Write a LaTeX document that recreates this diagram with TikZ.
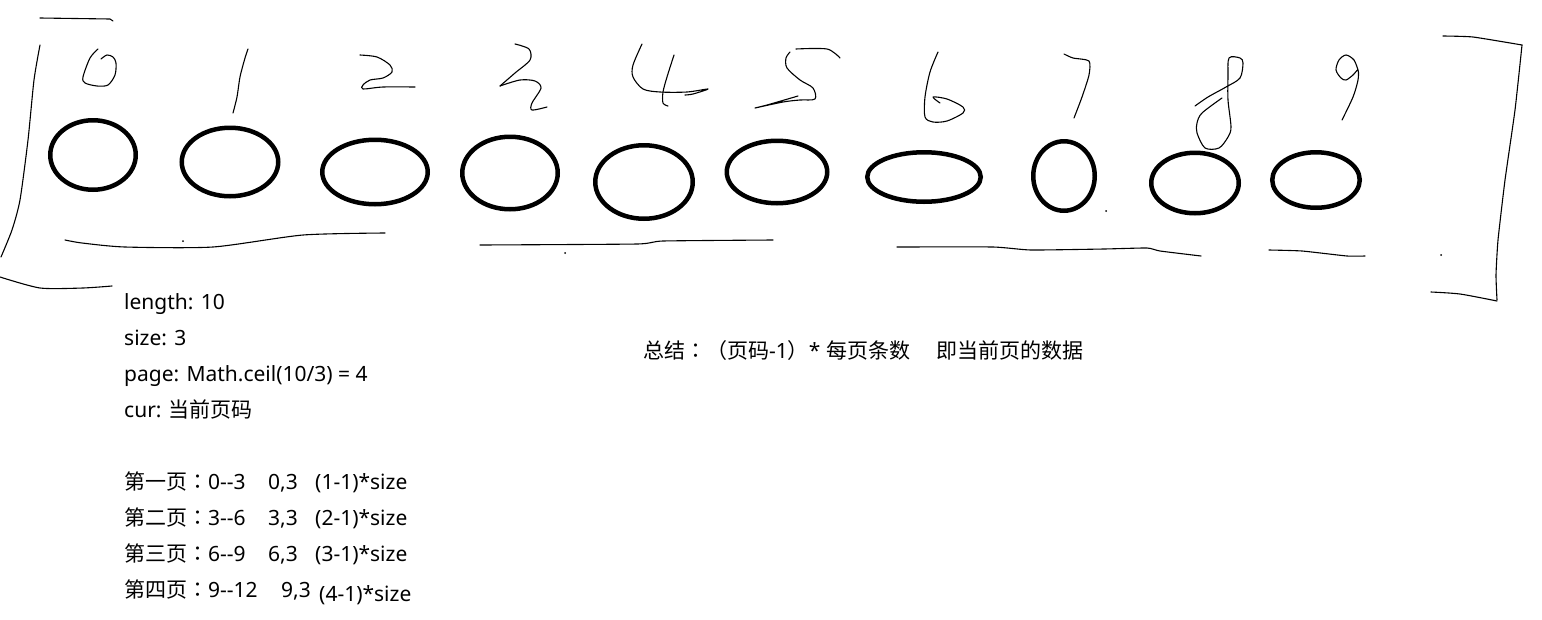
\documentclass[tikz,border=0pt]{standalone}
\usepackage{fontspec}
\setmainfont{Noto Sans}
\newfontfamily\cjk{Noto Sans CJK SC}
\newfontfamily\cjkc{Noto Sans CJK TC}
\usetikzlibrary{shapes.geometric}
\begin{document}
\begin{tikzpicture}[x=1pt,y=-1pt,
  ring/.style={draw, ellipse, line width=4.5pt, inner sep=0pt, outer sep=0pt},
  hand/.style={line width=1.1pt, line cap=round, line join=round},
  txt/.style={anchor=base west, inner sep=0pt, font=\fontsize{21}{25}\selectfont}]
\path[use as bounding box, fill=white] (0,0) rectangle (1542,619);

% ellipses
\node[ring, minimum width=85.5pt, minimum height=69.5pt] (e0) at (93,155) {};
\node[ring, minimum width=96.5pt, minimum height=68.5pt] (e1) at (230,162) {};
\node[ring, minimum width=105.5pt, minimum height=64.5pt] (e2) at (375,172) {};
\node[ring, minimum width=95.5pt, minimum height=72.5pt] (e3) at (510,173) {};
\node[ring, minimum width=97.5pt, minimum height=73.5pt] (e4) at (644,182) {};
\node[ring, minimum width=100.5pt, minimum height=62.5pt] (e5) at (777,172) {};
\node[ring, minimum width=113.5pt, minimum height=49.5pt] (e6) at (924,177) {};
\node[ring, minimum width=61.5pt, minimum height=69.5pt] (e7) at (1064,176) {};
\node[ring, minimum width=87.5pt, minimum height=60.5pt] (e8) at (1195,183) {};
\node[ring, minimum width=87.5pt, minimum height=55.5pt] (e9) at (1316,180) {};

% left bracket
\draw[hand] (40,18) -- (110,19) -- (113,21);
\draw[hand] plot[smooth, tension=0.4] coordinates {(40,45) (34,80) (28,140) (20,200) (12,230) (1,257)};
\draw[hand] plot[smooth, tension=0.4] coordinates {(0,277) (40,288) (83,288) (112,286)};
% right bracket
\draw[hand] plot[smooth, tension=0.3] coordinates {(1443,36) (1473,37) (1522,45)};
\draw[hand] plot[smooth, tension=0.3] coordinates {(1522,45) (1515,110) (1505,180) (1498,240) (1496,275) (1497,300)};
\draw[hand] plot[smooth, tension=0.4] coordinates {(1431,292) (1460,294) (1497,301)};

% underlines
\draw[hand] plot[smooth, tension=0.4] coordinates {(65,240) (82,243) (125,247) (213,247) (303,235) (385,233)};
\draw[hand] plot[smooth, tension=0.3] coordinates {(480,245) (637,244) (663,241) (773,240)};
\draw[hand] plot[smooth, tension=0.3] coordinates {(897,247) (993,247) (1031,250) (1104,249) (1147,248) (1160,251) (1201,256)};
\draw[hand] plot[smooth, tension=0.3] coordinates {(1269,250) (1302,251) (1347,256) (1365,256)};

% stray dots
\fill (183,241) circle (1pt);
\fill (565,253) circle (1pt);
\fill (1106,211) circle (1pt);
\fill (1441,255) circle (1pt);

% digits
% 0
\draw[hand] plot[smooth, tension=0.5] coordinates {(98,49) (90,58) (83,77) (85,83) (97,86) (108,85) (115,75) (116,63) (113,57) (107,55) (101,59)};
% 1
\draw[hand] plot[smooth, tension=0.5] coordinates {(248,49) (245,58) (240,77) (237,97) (233,113)};
% 2
\draw[hand] plot[smooth, tension=0.5] coordinates {(360,55) (377,57) (390,65) (392,72) (383,78) (370,80) (363,85) (363,89) (383,87) (415,87)};
% 3 (drawn as 2)
\draw[hand] plot[smooth, tension=0.5] coordinates {(515,44) (529,49) (530,60) (515,73) (500,86)};
\draw[hand] plot[smooth, tension=0.5] coordinates {(500,86) (520,80) (535,81) (541,88) (532,103) (532,110) (547,107)};
% 4
\draw[hand] plot[smooth, tension=0.5] coordinates {(642,44) (633,65) (633,77) (643,89) (660,92) (687,92) (708,89) (693,94) (685,95)};
\draw[hand] plot[smooth, tension=0.5] coordinates {(674,55) (667,77) (663,92) (663,103) (668,106)};
% 5
\draw[hand] plot[smooth, tension=0.5] coordinates {(796,49) (827,49) (840,58)};
\draw[hand] plot[smooth, tension=0.5] coordinates {(790,52) (786,58) (787,68) (800,80) (813,88) (815,99) (800,100) (783,102) (755,108) (767,105) (798,96)};
% 6
\draw[hand] plot[smooth, tension=0.5] coordinates {(938,52) (930,72) (925,97) (925,117) (933,122) (947,121) (963,113) (963,107) (947,99) (933,97) (940,103)};
% 7
\draw[hand] plot[smooth, tension=0.4] coordinates {(1064,54) (1073,58) (1089,61) (1089,75) (1082,97) (1074,118)};
% 8
\draw[hand] plot[smooth, tension=0.5] coordinates {(1195,106) (1208,97) (1226,87) (1240,78) (1243,63) (1240,58) (1229,58) (1228,77) (1228,100) (1231,127) (1228,137) (1219,148) (1205,148) (1197,133) (1197,123) (1202,113) (1222,98)};
% 9
\draw[hand] plot[smooth, tension=0.5] coordinates {(1358,70) (1354,60) (1346,55) (1339,60) (1336,70) (1341,78) (1346,80) (1353,75) (1358,70) (1358,80) (1353,97) (1342,120)};

% text block 1
\node[txt] (t1) at (124,309) {length: 10};
\node[txt] (t2) at (124,345) {size: 3};
\node[txt] (t3) at (124,381) {page: Math.ceil(10/3) = 4};
\node[txt] (t4) at (124,417) {cur: {\cjk 当前页码}};

% text block 2
\node[txt] (p1a) at (124,489) {{\cjk 第一页}{\cjkc ：}0-{}-3};
\node[txt] (p1b) at (268,489) {0,3};
\node[txt] (p1c) at (315,489) {(1-1)*size};
\node[txt] (p2a) at (124,525) {{\cjk 第二页}{\cjkc ：}3-{}-6};
\node[txt] (p2b) at (268,525) {3,3};
\node[txt] (p2c) at (315,525) {(2-1)*size};
\node[txt] (p3a) at (124,561) {{\cjk 第三页}{\cjkc ：}6-{}-9};
\node[txt] (p3b) at (268,561) {6,3};
\node[txt] (p3c) at (315,561) {(3-1)*size};
\node[txt] (p4a) at (124,597) {{\cjk 第四页}{\cjkc ：}9-{}-12};
\node[txt] (p4b) at (281,597) {9,3};
\node[txt] (p4c) at (319,601) {(4-1)*size};

% summary
\node[txt] (s1) at (643,358) {{\cjk 总结}{\cjkc ：}{\cjk （页码}-1{\cjk ）}* {\cjk 每页条数}};
\node[txt] (s2) at (936,358) {\cjk 即当前页的数据};
\end{tikzpicture}
\end{document}
